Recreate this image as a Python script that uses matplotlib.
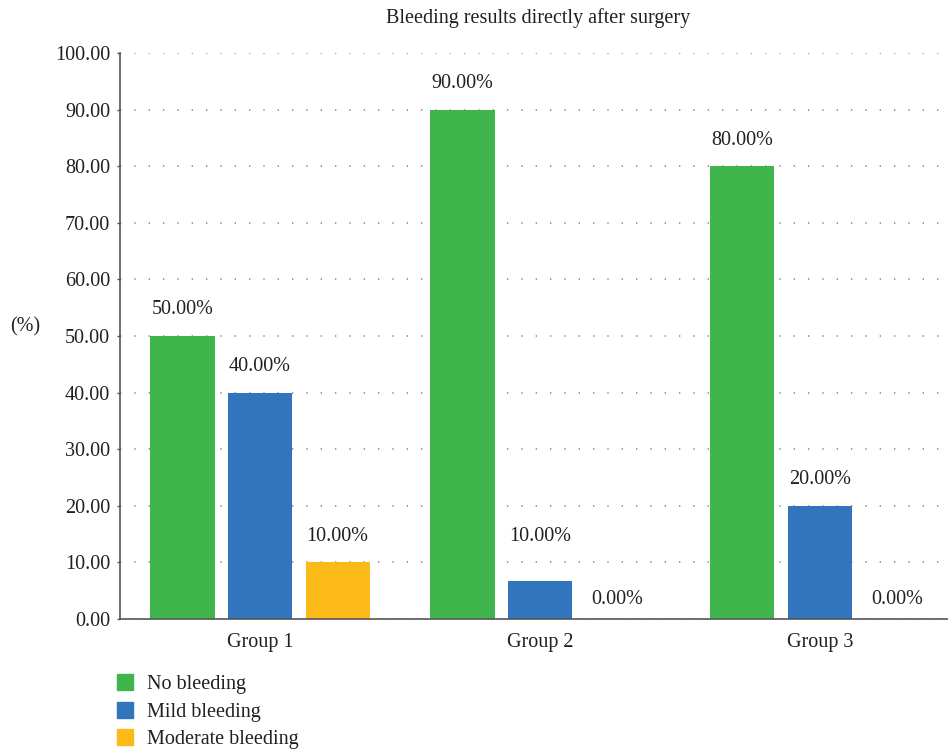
import numpy as np
import matplotlib
matplotlib.use("Agg")
import matplotlib.pyplot as plt
from matplotlib.lines import Line2D

plt.rcParams["font.family"] = ["Liberation Serif", "DejaVu Serif"]

# Data
groups = ["Group 1", "Group 2", "Group 3"]
series = ["No bleeding", "Mild bleeding", "Moderate bleeding"]

# drawn bar heights (the Group 2 mild bar is drawn lower than its label)
no_bleeding = [50.0, 90.0, 80.0]
mild_bleeding = [40.0, 6.7, 20.0]
moderate_bleeding = [10.0, 0.0, 0.0]

# values printed above the bars
no_labels = [50.0, 90.0, 80.0]
mild_labels = [40.0, 10.0, 20.0]
moderate_labels = [10.0, 0.0, 0.0]

yticks = np.arange(0, 101, 10)
colors = ["#3fb54b", "#3176bc", "#fbba17"]
text_color = "#231f20"
fs = 14.5

fig = plt.figure(figsize=(9.48, 7.54), dpi=100)
ax = fig.add_axes([120 / 948, 135 / 754, 828 / 948, 566 / 754])

x = np.arange(len(groups))
width = 0.229
step = 0.277

heights = [no_bleeding, mild_bleeding, moderate_bleeding]
labels = [no_labels, mild_labels, moderate_labels]

for i, (h, lab, c) in enumerate(zip(heights, labels, colors)):
    xs = x + (i - 1) * step
    ax.bar(xs, h, width=width, color=c, zorder=2)
    for xi, v in zip(xs, lab):
        off = 19 if v == 0 else 26
        ax.annotate(f"{v:.2f}%", (xi, v), xytext=(0, off * 0.72),
                    textcoords="offset points", ha="center", va="center",
                    fontsize=fs, color=text_color)

ax.set_xlim(-0.5, -0.5 + 828 / 280)
ax.set_ylim(0, 100)
ax.set_yticks(yticks)
ax.set_yticklabels([f"{t:.2f}" for t in yticks])
ax.set_xticks(x)
ax.set_xticklabels(groups)

ax.yaxis.grid(True, color="#8c8c8c", linestyle=(0, (0.8, 7.8)), linewidth=1.2, zorder=0)
ax.set_axisbelow(True)

for s in ["top", "right"]:
    ax.spines[s].set_visible(False)
for s in ["left", "bottom"]:
    ax.spines[s].set_color("#555555")
    ax.spines[s].set_linewidth(1.2)

ax.tick_params(axis="y", length=2, width=1, color="#555555", pad=5,
               labelsize=fs, labelcolor=text_color)
ax.tick_params(axis="x", length=0, pad=10, labelsize=fs, labelcolor=text_color)

ax.set_ylabel("(%)", rotation=0, fontsize=fs, color=text_color)
ax.yaxis.set_label_coords(-95 / 828, 0.5)

fig.text(538 / 948, 1 - 18 / 754, "Bleeding results directly after surgery",
         ha="center", va="center", fontsize=fs, color=text_color)

handles = [Line2D([], [], marker="s", linestyle="none", markersize=11,
                  markerfacecolor=c, markeredgecolor=c) for c in colors]
fig.legend(handles, series, loc="upper left", bbox_to_anchor=(115 / 948, 1 - 675 / 754),
           frameon=False, fontsize=fs, handlelength=1.0, handletextpad=0.6,
           labelspacing=0.42, labelcolor=text_color, borderaxespad=0, borderpad=0)

fig.savefig("out.png", dpi=100)
